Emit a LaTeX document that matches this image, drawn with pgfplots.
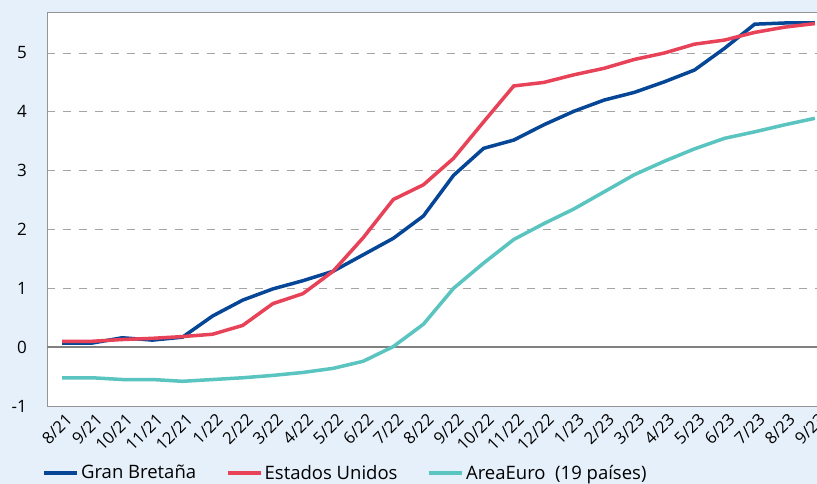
\documentclass[border=0pt]{standalone}
\usepackage{pgfplots}
\pgfplotsset{compat=1.18}
\usepackage{fontspec}
\setmainfont{Open Sans}
\definecolor{bgblue}{RGB}{230,240,250}
\definecolor{gbblue}{RGB}{5,70,150}
\definecolor{usred}{RGB}{232,66,88}
\definecolor{euteal}{RGB}{90,196,192}
\definecolor{gridgray}{RGB}{165,165,165}
\begin{document}
\begin{tikzpicture}
\fill[bgblue] (-47bp,-78bp) rectangle (770bp,406bp);
\useasboundingbox (-47bp,-78bp) rectangle (770bp,406bp);
\begin{axis}[
  at={(0,0)}, anchor=south west,
  scale only axis, width=770bp, height=393bp,
  xmin=-0.5, xmax=25.07, ymin=-1, ymax=5.68,
  axis background/.style={fill=white},
  axis line style={draw=none},
  major tick length=0pt,
  xtick={0,...,25},
  xticklabels={8/21,9/21,10/21,11/21,12/21,1/22,2/22,3/22,4/22,5/22,6/22,7/22,8/22,9/22,10/22,11/22,12/22,1/23,2/23,3/23,4/23,5/23,6/23,7/23,8/23,9/23},
  xticklabel style={rotate=45, anchor=north east, font=\fontsize{16.5bp}{17bp}\selectfont, inner sep=0pt, xshift=-2.3bp, yshift=-6.3bp},
  ytick={-1,0,1,2,3,4,5},
  yticklabel style={font=\fontsize{17bp}{18bp}\selectfont, inner sep=0pt, xshift=-20bp},
  /pgf/number format/assume math mode=true,
  ymajorgrids, grid style={gridgray, dash pattern=on 8bp off 8bp, line width=1bp},
  legend columns=3,
  legend style={at={(-0.006,-0.170)}, anchor=west, draw=none, fill=none,
    font=\fontsize{18.5bp}{19bp}\selectfont, inner sep=0pt,
    /tikz/every even column/.append style={column sep=28bp}},
  legend image code/.code={\path (0bp,0bp) -- (33bp,0bp);\draw[#1, line width=4bp, line cap=round] (2bp,0bp) -- (28bp,0bp);},
  clip=false,
]
\draw[gridgray!90!black, line width=1bp] (rel axis cs:0,0) -- (rel axis cs:0,1) -- (rel axis cs:1.02,1);
\draw[gridgray!90!black, line width=1bp] (rel axis cs:0,0) -- (rel axis cs:1.02,0);
\draw[gray, line width=2.2bp] (axis cs:-0.5,0) -- (axis cs:25.6,0);
\addplot[gbblue, line width=3.5bp] coordinates {
(0,0.07)(1,0.07)(2,0.16)(3,0.12)(4,0.17)(5,0.53)(6,0.80)(7,0.99)(8,1.13)(9,1.29)(10,1.57)(11,1.85)(12,2.23)(13,2.92)(14,3.38)(15,3.52)(16,3.78)(17,4.01)(18,4.20)(19,4.33)(20,4.51)(21,4.71)(22,5.08)(23,5.49)(24,5.51)(25,5.51)};
\addlegendentry{Gran Bretaña}
\addplot[usred, line width=3.5bp] coordinates {
(0,0.10)(1,0.10)(2,0.13)(3,0.15)(4,0.18)(5,0.22)(6,0.37)(7,0.74)(8,0.91)(9,1.29)(10,1.86)(11,2.51)(12,2.76)(13,3.21)(14,3.83)(15,4.44)(16,4.50)(17,4.63)(18,4.74)(19,4.89)(20,5.00)(21,5.15)(22,5.22)(23,5.35)(24,5.44)(25,5.50)};
\addlegendentry{Estados Unidos}
\addplot[euteal, line width=3.5bp] coordinates {
(0,-0.52)(1,-0.52)(2,-0.55)(3,-0.55)(4,-0.58)(5,-0.55)(6,-0.52)(7,-0.48)(8,-0.43)(9,-0.36)(10,-0.24)(11,0.01)(12,0.39)(13,1.00)(14,1.43)(15,1.83)(16,2.10)(17,2.35)(18,2.64)(19,2.93)(20,3.16)(21,3.37)(22,3.55)(23,3.66)(24,3.78)(25,3.89)};
\addlegendentry{AreaEuro\ \ (19 países)}
\end{axis}
\end{tikzpicture}
\end{document}
